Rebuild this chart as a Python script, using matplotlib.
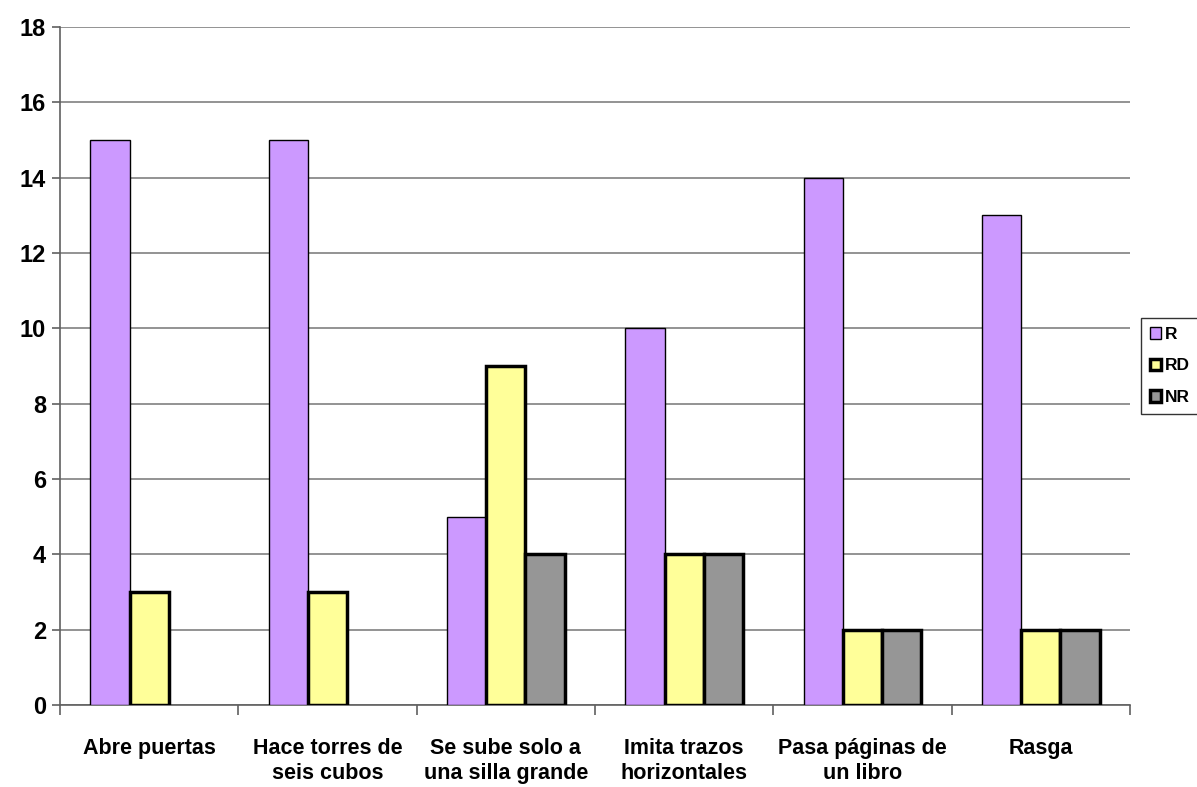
import numpy as np
import matplotlib
matplotlib.use('Agg')
import matplotlib.pyplot as plt
from matplotlib.ticker import FixedLocator, NullFormatter

categories = ['Abre puertas', 'Hace torres de\nseis cubos', 'Se sube solo a\nuna silla grande',
              'Imita trazos\nhorizontales', 'Pasa páginas de\nun libro', 'Rasga']
r_values = [15, 15, 5, 10, 14, 13]
rd_values = [3, 3, 9, 4, 2, 2]
nr_values = [0, 0, 4, 4, 2, 2]
series_names = ['R', 'RD', 'NR']

plt.rcParams['font.family'] = ['Liberation Sans', 'DejaVu Sans']
plt.rcParams['font.weight'] = 'bold'

W, H = 1197, 787
fig = plt.figure(figsize=(W / 100, H / 100), dpi=100)
ax = fig.add_axes([60 / W, (H - 705) / H, (1130 - 60) / W, (705 - 27) / H])


def no_zero(vals):
    # empty bars in the original are simply not drawn
    return np.where(np.array(vals) == 0, np.nan, vals)


x = np.arange(len(categories))
w = 0.22
ax.bar(x - w, no_zero(r_values), w, color='#cc99ff', edgecolor='black', linewidth=1.0,
       label=series_names[0], zorder=3)
ax.bar(x, no_zero(rd_values), w, color='#ffff99', edgecolor='black', linewidth=2.5,
       label=series_names[1], zorder=3)
ax.bar(x + w, no_zero(nr_values), w, color='#969696', edgecolor='black', linewidth=2.5,
       label=series_names[2], zorder=3)

ax.set_xlim(-0.5, len(categories) - 0.5)
ax.set_ylim(0, 18)
ax.set_yticks(range(0, 19, 2))
ax.yaxis.grid(True, color='#808080', linewidth=1.2, zorder=0)

ax.xaxis.set_major_locator(FixedLocator(np.arange(-0.5, len(categories), 1.0)))
ax.xaxis.set_major_formatter(NullFormatter())
ax.xaxis.set_minor_locator(FixedLocator(x))
ax.set_xticklabels(categories, minor=True)
ax.tick_params(axis='x', which='minor', length=0, pad=24, labelsize=15.5)
ax.tick_params(axis='x', which='major', length=7, width=1.2, color='#606060')
ax.tick_params(axis='y', length=6, width=1.2, color='#606060', labelsize=17, pad=4)

for side in ['top', 'right']:
    ax.spines[side].set_visible(False)
for side in ['left', 'bottom']:
    ax.spines[side].set_color('#606060')
    ax.spines[side].set_linewidth(1.2)

leg = ax.legend(loc='center left', bbox_to_anchor=(1141 / W, (H - 366) / H),
                bbox_transform=fig.transFigure, frameon=True, fancybox=False,
                edgecolor='black', fontsize=12.5, handlelength=0.65, handleheight=0.65,
                handletextpad=0.25, borderpad=0.5, labelspacing=0.95, borderaxespad=0)
leg.get_frame().set_linewidth(1.0)
for t in leg.get_texts():
    t.set_fontweight('bold')

fig.savefig('out.png', dpi=100)
